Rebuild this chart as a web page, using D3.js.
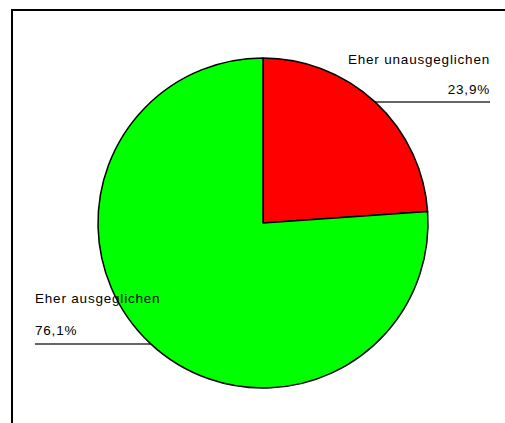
<!DOCTYPE html>
<html>
<head>
<meta charset="utf-8">
<style>
  body { margin: 0; background: #fff; }
  svg { display: block; }
  text { font-family: "Liberation Sans", Arial, sans-serif; font-size: 13.5px; letter-spacing: 0.8px; fill: #000; }
</style>
<script src="https://cdn.jsdelivr.net/npm/d3@7"></script>
</head>
<body>
<svg id="chart"></svg>
<script>
// data
let categories = ["Eher unausgeglichen", "Eher ausgeglichen"];
let values = [23.9, 76.1];
let colors = ["#ff0000", "#00ff00"];

let width = 505, height = 423;
let cx = 263, cy = 223, radius = 165;

let svg = d3.select("#chart").attr("width", width).attr("height", height);

// frame (top + left only)
svg.append("path")
  .attr("d", `M12,${height} V10 H${width}`)
  .attr("fill", "none")
  .attr("stroke", "#000")
  .attr("stroke-width", 2);

let de = d3.formatLocale({ decimal: ",", thousands: ".", grouping: [3], currency: ["", "€"] });
let fmt = v => de.format(".1f")(v) + "%";

// label layout: one label on the right (upper), one on the left (lower)
let labelPos = [
  { x: 490, anchor: "end", name: cy - 159, pct: cy - 129, line: cy - 121, x1: cx, x2: 490 },
  { x: 35, anchor: "start", name: cy + 80, pct: cy + 112, line: cy + 121, x1: 35, x2: cx }
];

let lines = svg.append("g");
categories.forEach((c, i) => {
  let p = labelPos[i];
  lines.append("line")
    .attr("x1", p.x1).attr("x2", p.x2)
    .attr("y1", p.line).attr("y2", p.line)
    .attr("stroke", "#333").attr("stroke-width", 1.6);
});

let pie = d3.pie().sort(null).value(d => d)(values);
let arc = d3.arc().innerRadius(0).outerRadius(radius);

svg.append("g")
  .attr("transform", `translate(${cx},${cy})`)
  .selectAll("path")
  .data(pie)
  .join("path")
  .attr("d", arc)
  .attr("fill", (d, i) => colors[i])
  .attr("stroke", "#000")
  .attr("stroke-width", 1.5)
  .attr("stroke-linejoin", "round");

let labels = svg.append("g");
categories.forEach((c, i) => {
  let p = labelPos[i];
  labels.append("text")
    .attr("x", p.x).attr("y", p.name)
    .attr("text-anchor", p.anchor)
    .text(c);
  labels.append("text")
    .attr("x", p.x).attr("y", p.pct)
    .attr("text-anchor", p.anchor)
    .text(fmt(values[i]));
});
</script>
</body>
</html>
